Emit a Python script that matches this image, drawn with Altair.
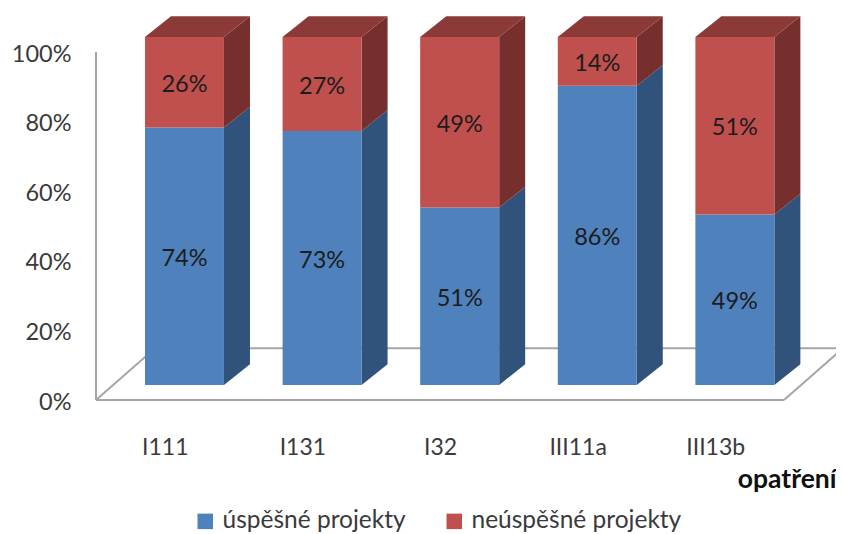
import altair as alt
import pandas as pd

categories = ["I111", "I131", "I32", "III11a", "III13b"]
success = [74, 73, 51, 86, 49]
failure = [26, 27, 49, 14, 51]
success_name = "úspěšné projekty"
failure_name = "neúspěšné projekty"
labels_ok = ["74%", "73%", "51%", "86%", "49%"]
labels_bad = ["26%", "27%", "49%", "14%", "51%"]

BLUE, RED = "#4F81BD", "#C0504D"
BLUE_SIDE, RED_SIDE, RED_TOP = "#31527B", "#772F2E", "#8C3A38"
GREY = "#A6A6A6"
FONT = "Lato"

# 3-D projection expressed in data units
X_MAX = 740 / 137.6
Y_MAX = 386 / 3.48
BAR_OFF, BAR_W = 0.356, 0.574
DX, DY = 0.189, 6.0
BASE = 4.3
FLOOR_DX, FLOOR_DY = 0.429, 14.9

xs = alt.Scale(domain=[0, X_MAX], nice=False, zero=False)
ys = alt.Scale(domain=[0, Y_MAX], nice=False, zero=False)

fronts, sides, tops, texts = [], [], [], []
for i, c in enumerate(categories):
    l = i + BAR_OFF
    r = l + BAR_W
    ok, bad = success[i], failure[i]
    fronts.append(dict(x=l, x2=r, y=BASE, y2=BASE + ok, s=success_name))
    fronts.append(dict(x=l, x2=r, y=BASE + ok, y2=BASE + ok + bad, s=failure_name))
    for s, lo, hi in [("b", BASE, BASE + ok), ("r", BASE + ok, BASE + ok + bad)]:
        sides.append(dict(x=r, y=lo, y2=hi, k=f"{c}{s}", s=s))
        sides.append(dict(x=r + DX, y=lo + DY, y2=hi + DY, k=f"{c}{s}", s=s))
    T = BASE + ok + bad
    for x, y1, y2 in [(l, T, T), (l + DX, T, T + DY), (r, T, T + DY), (r + DX, T + DY, T + DY)]:
        tops.append(dict(x=x, y=y1, y2=y2, k=c))
    texts.append(dict(x=(l + r) / 2, y=BASE + ok / 2, t=labels_ok[i]))
    texts.append(dict(x=(l + r) / 2, y=BASE + ok + bad / 2, t=labels_bad[i]))

n = len(categories)
frame = pd.DataFrame([
    dict(x=FLOOR_DX, y=FLOOR_DY, k="back"), dict(x=n + FLOOR_DX, y=FLOOR_DY, k="back"),
    dict(x=0, y=0, k="left"), dict(x=FLOOR_DX, y=FLOOR_DY, k="left"),
    dict(x=n, y=0, k="right"), dict(x=n + FLOOR_DX, y=FLOOR_DY, k="right"),
    dict(x=0, y=100, k="wall"), dict(x=0, y=0, k="wall"),
    dict(x=0, y=0, k="front"), dict(x=n, y=0, k="front"),
])

names = {i + 0.5: c for i, c in enumerate(categories)}
label_expr = "{" + ",".join(f"'{k}':'{v}'" for k, v in names.items()) + "}[datum.value]"

x_axis = alt.Axis(values=list(names), labelExpr=label_expr, grid=False, domain=False, ticks=False,
                  labelFont=FONT, labelFontSize=23, labelColor="#3a3a3a", labelPadding=36,
                  title="opatření", titleFont=FONT, titleFontSize=26.5, titleFontWeight="bold",
                  titleColor="#111111", titleX=740, titleY=66, titleAlign="right", titleAnchor="end")
y_axis = alt.Axis(values=[0, 20, 40, 60, 80, 100], labelExpr="datum.value + '%'", grid=False,
                  domain=False, ticks=False, labelFont=FONT, labelFontSize=23.5, labelColor="#3a3a3a",
                  labelPadding=25, labelOffset=2, title=None)

X = alt.X("x:Q", scale=xs, axis=x_axis)
Y = alt.Y("y:Q", scale=ys, axis=y_axis)

base_frame = alt.Chart(frame).mark_line(color=GREY, strokeWidth=2).encode(x=X, y=Y, detail="k:N", order=alt.Order("x:Q"))
side_df = pd.DataFrame(sides)
side_b = alt.Chart(side_df[side_df.s == "b"]).mark_area(color=BLUE_SIDE, opacity=1).encode(
    x=X, y=Y, y2="y2:Q", detail="k:N")
side_r = alt.Chart(side_df[side_df.s == "r"]).mark_area(color=RED_SIDE, opacity=1).encode(
    x=X, y=Y, y2="y2:Q", detail="k:N")
top = alt.Chart(pd.DataFrame(tops)).mark_area(color=RED_TOP, opacity=1).encode(
    x=X, y=Y, y2="y2:Q", detail="k:N")
front = alt.Chart(pd.DataFrame(fronts)).mark_rect().encode(
    x=X, x2="x2:Q", y=Y, y2="y2:Q",
    color=alt.Color("s:N", scale=alt.Scale(domain=[success_name, failure_name], range=[BLUE, RED]),
                    legend=alt.Legend(orient="none", legendX=97, legendY=495, direction="horizontal",
                                      title=None, symbolType="square", symbolSize=240, symbolStrokeWidth=0,
                                      labelFont=FONT, labelFontSize=24.5, labelColor="#3a3a3a", labelLimit=300,
                                      columnPadding=36, labelOffset=5)))
text = alt.Chart(pd.DataFrame(texts)).mark_text(font=FONT, fontSize=23.5, color="#1c1c1c", dy=2.5).encode(
    x=X, y=Y, text="t:N")

chart = alt.layer(base_frame, side_b, side_r, top, front, text).properties(
    width=740, height=386,
    padding={"left": 88, "top": 6, "right": 0, "bottom": 134},
    autosize=alt.AutoSizeParams(type="none"),
    background="white",
).configure_view(stroke=None)

chart.save("out.html", embed_options={"renderer": "svg", "actions": False})
